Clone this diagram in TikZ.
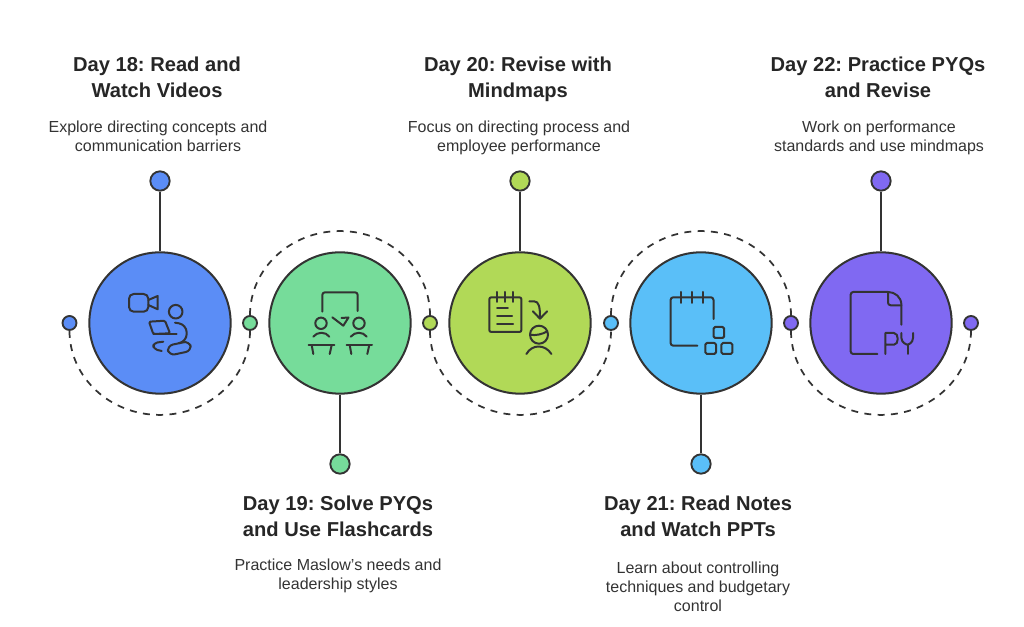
\documentclass[tikz,border=0pt]{standalone}
\usepackage{fontspec}
\setmainfont{Liberation Sans}
\usepackage{tikz}
\frenchspacing
\definecolor{ink}{HTML}{333333}
\definecolor{headink}{HTML}{262626}
\definecolor{dayblue}{HTML}{5B8DF6}
\definecolor{daygreen}{HTML}{76DC9A}
\definecolor{daylime}{HTML}{B1D957}
\definecolor{daysky}{HTML}{5ABFF8}
\definecolor{daypurple}{HTML}{8069F2}
\tikzset{
  bigdisc/.style={circle,draw=ink,line width=1.5pt,minimum size=106pt,inner sep=0pt},
  enddot/.style={circle,draw=ink,line width=1.4pt,minimum size=14.5pt,inner sep=0pt},
  smalldot/.style={circle,draw=ink,line width=1.4pt,minimum size=10.5pt,inner sep=0pt},
  stem/.style={draw=ink,line width=1.6pt},
  dashedarc/.style={draw=ink,line width=1.3pt,dash pattern=on 5.2pt off 4.8pt},
  icon/.style={draw=ink,line width=1.5pt,line cap=round,line join=round},
  headline/.style={anchor=north,inner sep=0pt,align=center,font=\bfseries\fontsize{15.1pt}{19.3pt}\selectfont,text=headink},
  bodytext/.style={anchor=north,inner sep=0pt,align=center,font=\fontsize{12pt}{14.2pt}\selectfont,text=ink}
}
\begin{document}
\begin{tikzpicture}[x=0.75pt,y=0.75pt]
\useasboundingbox (0,0) rectangle (1024,627);
% main discs
\node [bigdisc,fill=dayblue] (day18) at (160,304) {};
\node [bigdisc,fill=daygreen] (day19) at (340,304) {};
\node [bigdisc,fill=daylime] (day20) at (520,304) {};
\node [bigdisc,fill=daysky] (day21) at (701,304) {};
\node [bigdisc,fill=daypurple] (day22) at (881,304) {};
% end dots
\node [enddot,fill=dayblue] (top18) at (160,446) {};
\node [enddot,fill=daygreen] (low19) at (340,163) {};
\node [enddot,fill=daylime] (top20) at (520,446) {};
\node [enddot,fill=daysky] (low21) at (701,163) {};
\node [enddot,fill=daypurple] (top22) at (881,446) {};
\draw [stem] (day18) -- (top18);
\draw [stem] (day19) -- (low19);
\draw [stem] (day20) -- (top20);
\draw [stem] (day21) -- (low21);
\draw [stem] (day22) -- (top22);
% small dots on the axis
\node [smalldot,fill=dayblue] (dot0) at (69.5,304) {};
\node [smalldot,fill=daygreen] (dot1) at (250,304) {};
\node [smalldot,fill=daylime] (dot2) at (430,304) {};
\node [smalldot,fill=daysky] (dot3) at (611,304) {};
\node [smalldot,fill=daypurple] (dot4) at (791,304) {};
\node [smalldot,fill=daypurple] (dot5) at (971,304) {};
\draw [dashedarc] (dot0.south) arc [start angle=180,end angle=360,x radius=90.25,y radius=84];
\draw [dashedarc] (dot1.north) arc [start angle=180,end angle=0,x radius=90,y radius=84];
\draw [dashedarc] (dot2.south) arc [start angle=180,end angle=360,x radius=90.5,y radius=84];
\draw [dashedarc] (dot3.north) arc [start angle=180,end angle=0,x radius=90,y radius=84];
\draw [dashedarc] (dot4.south) arc [start angle=180,end angle=360,x radius=90,y radius=84];
% texts
\node [headline] (head18) at (157,570) {Day 18: Read and\\Watch Videos};
\node [bodytext] (text18) at (158,506) {Explore directing concepts and\\communication barriers};
\node [headline] (head20) at (518,570) {Day 20: Revise with\\Mindmaps};
\node [bodytext] (text20) at (519,506) {Focus on directing process and\\employee performance};
\node [headline] (head22) at (878,570) {Day 22: Practice PYQs\\and Revise};
\node [bodytext] (text22) at (879,506) {Work on performance\\standards and use mindmaps};
\node [headline] (head19) at (338,131) {Day 19: Solve PYQs\\and Use Flashcards};
\node [bodytext] (text19) at (338,68) {Practice Maslow’s needs and\\leadership styles};
\node [headline] (head21) at (698,131) {Day 21: Read Notes\\and Watch PPTs};
\node [bodytext] (text21) at (698,65) {Learn about controlling\\techniques and budgetary\\control};
% video icon
\begin{scope}[shift={(160,304)}]
\draw [icon,rounded corners=3.5] (-31,29) rectangle (-11.7,11.3);
\draw [icon] (-11.7,23) -- (-2.3,27) -- (-2.3,13.7) -- (-11.7,18);
\draw [icon] (15.7,11.3) circle (6.8);
\draw [icon,rounded corners=1] (-11,1.3) -- (5,2.3) -- (10,-10.3) -- (-6.7,-11) -- cycle;
\draw [icon] (-6.7,-11) -- (16.7,-11);
\draw [icon,rounded corners=6] (15,0.3) -- (26.7,-1.5) -- (26.7,-19) -- (20,-20);
\draw [icon,rounded corners=4.5,rotate around={12:(19.3,-25.3)}] (7.8,-20.3) rectangle (30.8,-30.3);
\draw [icon,rounded corners=3] (3.3,-18.7) -- (-6.7,-20) -- (-6.7,-26) -- (1.7,-28);
\end{scope}
% classroom icon
\begin{scope}[shift={(340,304)}]
\draw [icon,rounded corners=2] (-17.7,11.3) -- (-17.7,30.7) -- (17.7,30.7) -- (17.7,12);
\draw [icon] (-19,-0.3) circle (5.7);
\draw [icon] (19,-0.3) circle (5.7);
\draw [icon] (-7.7,5.7) -- (3.3,-2.7) -- (8.5,5.5) -- (1.5,5);
\draw [icon] (-26.7,-13.7) .. controls (-23,-8.5) and (-14,-8.5) .. (-10.7,-13.7);
\draw [icon] (10.7,-13.7) .. controls (15,-8.5) and (23,-8.5) .. (26.7,-13.7);
\draw [icon] (-31.3,-22) -- (-5.7,-22);
\draw [icon] (-28.3,-22) -- (-26.7,-31);
\draw [icon] (-8.3,-22) -- (-10.3,-31);
\draw [icon] (6.7,-22) -- (32,-22);
\draw [icon] (9.7,-22) -- (11.3,-31);
\draw [icon] (29.3,-22) -- (27.3,-31);
\end{scope}
% notepad icon
\begin{scope}[shift={(520,304)}]
\draw [icon,rounded corners=1.5] (-30.7,25.7) rectangle (1.4,-9);
\draw [icon] (-22.9,31) -- (-22.9,21);
\draw [icon] (-14.6,31) -- (-14.6,21);
\draw [icon] (-6.8,31) -- (-6.8,21);
\draw [icon] (-22.9,15.3) -- (-12.1,15.3);
\draw [icon] (-22.9,7) -- (-7.9,7);
\draw [icon] (-22.9,-1.3) -- (-6.8,-1.3);
\draw [icon] (9.3,21.7) -- (14,21.7) .. controls (19,21.7) and (20,16) .. (20,5);
\draw [icon] (12.9,11.7) -- (20,4.3) -- (27.1,11.7);
\draw [icon] (19,-11.7) circle (9);
\draw [icon] (10.5,-11.7) .. controls (15,-13) and (23,-11) .. (27,-8.5);
\draw [icon] (6.4,-31) .. controls (12,-21) and (25,-21) .. (31.4,-31);
\end{scope}
% calendar icon
\begin{scope}[shift={(701,304)}]
\draw [icon,rounded corners=2] (12.5,4) -- (12.5,25.7) -- (-30.4,25.7) -- (-30.4,-22.7) -- (-3.6,-22.7);
\draw [icon] (-19.7,31) -- (-19.7,20);
\draw [icon] (-8.9,31) -- (-8.9,20);
\draw [icon] (1.8,31) -- (1.8,20);
\draw [icon,rounded corners=1.2] (12.5,-4) rectangle (23.2,-15);
\draw [icon,rounded corners=1.2] (4.3,-20) rectangle (15,-31);
\draw [icon,rounded corners=1.2] (20.4,-20) rectangle (31.4,-31);
\end{scope}
% python file icon
\begin{scope}[shift={(881,304)}]
\draw [icon,rounded corners=2] (-3.6,-31) -- (-30.4,-31) -- (-30.4,31) -- (7,31);
\draw [icon] (7,31) .. controls (14,31) and (20.4,26) .. (20.4,18) -- (20.4,-1.7);
\draw [icon,rounded corners=2] (7,31) -- (7,17.7) -- (20.4,17.7);
\draw [icon] (4.3,-31) -- (4.3,-10) -- (13,-10) .. controls (18,-10) and (18,-21.7) .. (13,-21.7) -- (4.3,-21.7);
\draw [icon] (20.4,-10) -- (20.4,-15) .. controls (20.4,-20) and (26,-21.7) .. (26.5,-21.7) .. controls (27,-21.7) and (32,-20) .. (32,-15) -- (32,-10);
\draw [icon] (26.5,-21.7) -- (26.5,-31);
\end{scope}
\end{tikzpicture}
\end{document}
